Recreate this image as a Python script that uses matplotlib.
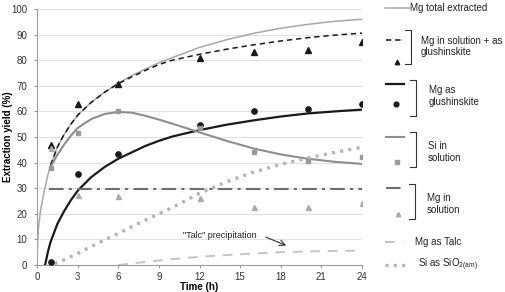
import matplotlib
matplotlib.use("Agg")
import matplotlib.pyplot as plt
from matplotlib.lines import Line2D

plt.rcParams['font.family'] = ['Liberation Sans', 'DejaVu Sans']

# ---- data ----
t_points = [1, 3, 6, 12, 16, 20, 24]
mg_sol_glush_pts = [47, 63, 70.7, 80.8, 83.2, 84, 87]
mg_glush_pts = [1, 35.4, 43.3, 54.5, 60.2, 61, 63]
si_sol_pts = [38, 51.4, 60, 53.5, 44.3, 40.5, 42.3]
mg_sol_pts = [45.7, 27.3, 27, 26, 22.8, 22.8, 24.2]

t_total = [0, 0.05, 0.1, 0.25, 0.5, 0.75, 1, 1.5, 2, 2.5, 3, 4, 5, 6, 7, 8, 9, 10, 12, 14, 16, 18, 20, 22, 24]
mg_total = [0, 9, 14, 21, 28, 34, 39, 46, 51, 55, 58.5, 63.5, 67.5, 71, 74, 76.5, 79, 81, 85, 88, 90.5, 92.5, 94, 95.2, 96]

t_sg = [1, 1.5, 2, 2.5, 3, 4, 5, 6, 7, 8, 9, 10, 12, 14, 16, 18, 20, 22, 24]
mg_sol_glush = [39, 46, 51, 55, 58.5, 63.5, 67.5, 70.8, 73.5, 76, 78.3, 80, 82.3, 84.3, 86, 87.5, 88.8, 89.8, 90.6]

t_glush = [0.6, 0.8, 1, 1.5, 2, 2.5, 3, 4, 5, 6, 7, 8, 9, 10, 12, 14, 16, 18, 20, 22, 24]
mg_glush = [0, 5, 9, 16, 21, 25.3, 29, 34.3, 38.3, 41.5, 44, 46.5, 48.5, 50.2, 52.7, 54.8, 56.5, 58, 59.2, 60, 60.7]

t_si = [1, 1.5, 2, 2.5, 3, 4, 5, 6, 7, 8, 9, 10, 12, 14, 16, 18, 20, 22, 24]
si_sol = [38.3, 43, 47, 50.5, 53.5, 57, 59, 59.8, 59.5, 58.3, 56.8, 55.2, 51.8, 48.5, 45.5, 43.2, 41.5, 40.3, 39.5]

t_mgsol = [0.9, 24]
mg_sol = [29.5, 29.5]

t_sio2 = [1.3, 2, 3, 4, 5, 6, 7, 8, 9, 10, 12, 14, 16, 18, 20, 22, 24]
si_sio2 = [0.5, 2, 4.5, 7.2, 9.8, 12.3, 15, 17.5, 20, 22.5, 28, 32.5, 36.3, 39.3, 41.8, 44, 46]

t_talc = [6, 8, 10, 12, 14, 16, 18, 20, 22, 24]
mg_talc = [0, 1.2, 2.3, 3.2, 3.9, 4.5, 5, 5.3, 5.5, 5.6]

x_ticks = [0, 3, 6, 9, 12, 15, 18, 21, 24]
y_ticks = [0, 10, 20, 30, 40, 50, 60, 70, 80, 90, 100]

# ---- styles ----
C_TOTAL = '#a8a8a8'
C_BLACK = '#1a1a1a'
C_SI = '#8e8e8e'
C_MGSOL = '#6e6e6e'
C_SIO2 = '#b4b4b4'
C_TALC = '#c4c4c4'
C_SQ = '#9a9a9a'
C_GTRI = '#ababab'

W, H = 505, 292
fig = plt.figure(figsize=(W / 100, H / 100), dpi=100)
ax = fig.add_axes([37 / W, 1 - 265 / H, (362 - 37) / W, (265 - 9) / H])

ax.plot(t_total, mg_total, color=C_TOTAL, lw=1.1, zorder=3)
ax.plot(t_sg, mg_sol_glush, color=C_BLACK, lw=1.1, ls=(0, (3.5, 2.5)), zorder=3)
ax.plot(t_glush, mg_glush, color=C_BLACK, lw=1.6, zorder=3)
ax.plot(t_si, si_sol, color=C_SI, lw=1.5, zorder=3)
ax.plot(t_mgsol, mg_sol, color=C_MGSOL, lw=1.5, ls=(0, (7, 2.5, 1.5, 2.5)), zorder=3)
ax.plot(t_sio2, si_sio2, color=C_SIO2, lw=2.4, ls=(0, (0.9, 1.6)), zorder=3)
ax.plot(t_talc, mg_talc, color=C_TALC, lw=1.4, ls=(0, (5, 4)), zorder=3)

ax.plot(t_points, mg_sol_glush_pts, ls='none', marker='^', ms=3.8, color=C_BLACK, zorder=4)
ax.plot(t_points, mg_glush_pts, ls='none', marker='o', ms=3.8, color=C_BLACK, zorder=4)
ax.plot(t_points, si_sol_pts, ls='none', marker='s', ms=3.4, color=C_SQ, zorder=4)
ax.plot(t_points, mg_sol_pts, ls='none', marker='^', ms=3.6, color=C_GTRI, zorder=4)

ax.set_xlim(0, 24)
ax.set_ylim(0, 100)
ax.set_xticks(x_ticks)
ax.set_yticks(y_ticks)
ax.yaxis.grid(True, color='#e2e2e2', lw=0.8)
ax.set_axisbelow(True)
for s in ['top', 'right']:
    ax.spines[s].set_visible(False)
for s in ['left', 'bottom']:
    ax.spines[s].set_color('#9a9a9a')
    ax.spines[s].set_linewidth(0.8)
ax.tick_params(axis='both', labelsize=7, colors='#9a9a9a', labelcolor='#333333', width=0.8)
ax.tick_params(axis='x', length=2.5, pad=2.5)
ax.tick_params(axis='y', length=2, pad=5)

# ---- figure pixel helpers ----
def fx(x):
    return x / W

def fy(y):
    return 1 - y / H

fig.text(fx(199), fy(286.5), 'Time (h)', fontsize=7, fontweight='bold', ha='center', va='center')
fig.text(fx(8), fy(137), 'Extraction yield (%)', fontsize=7, fontweight='bold',
         ha='center', va='center', rotation=90)

ax.text(13.5, 11.7, '"Talc" precipitation', fontsize=6.5, ha='center', va='center', color='#222222')
ax.annotate('', xy=(18.4, 7.6), xytext=(16.9, 10.9),
            arrowprops=dict(arrowstyle='->', color='#333333', lw=0.8, shrinkA=0, shrinkB=0))

# ---- custom legend ----
def seg(x0, x1, y, **kw):
    fig.add_artist(Line2D([fx(x0), fx(x1)], [fy(y), fy(y)], transform=fig.transFigure, **kw))

def mark(x, y, **kw):
    fig.add_artist(Line2D([fx(x)], [fy(y)], transform=fig.transFigure, ls='none', **kw))

def bracket(x, y0, y1):
    fig.add_artist(Line2D([fx(x - 6), fx(x), fx(x), fx(x - 6)],
                          [fy(y0), fy(y0), fy(y1), fy(y1)],
                          transform=fig.transFigure, color='#333333', lw=0.8))

def label(x, y, s):
    fig.text(fx(x), fy(y), s, fontsize=7, ha='left', va='center', color='#222222')

seg(385, 410, 8, color=C_TOTAL, lw=1.1)
label(410, 8, 'Mg total extracted')

seg(386, 403, 40, color=C_BLACK, lw=1.1, ls=(0, (3.5, 2.5)))
mark(397, 62, marker='^', ms=3.2, color=C_BLACK)
bracket(411, 30, 64)
label(421, 46.5, 'Mg in solution + as\nglushinskite')

seg(386, 404, 84, color=C_BLACK, lw=1.6)
mark(396, 104, marker='o', ms=3.4, color=C_BLACK)
bracket(416, 80, 116)
label(429, 96, 'Mg as\nglushinskite')

seg(386, 404, 137, color=C_SI, lw=1.5)
mark(397, 162, marker='s', ms=3.0, color=C_SQ)
bracket(416, 132, 167)
label(428, 152, 'Si in\nsolution')

seg(386, 404, 188, color=C_MGSOL, lw=1.5, ls=(0, (7, 2.5, 1.5, 2.5)))
mark(398, 214, marker='^', ms=3.2, color=C_GTRI)
bracket(415, 184, 219)
label(427, 204, 'Mg in\nsolution')

seg(385, 403, 242, color=C_TALC, lw=1.4, ls=(0, (5, 4)))
label(415, 242, 'Mg as Talc')

seg(385, 405, 265, color=C_SIO2, lw=2.4, ls=(0, (0.9, 1.6)))
label(418, 265, 'Si as SiO$_\\mathregular{2(am)}$')

fig.savefig('out.png', dpi=100)
